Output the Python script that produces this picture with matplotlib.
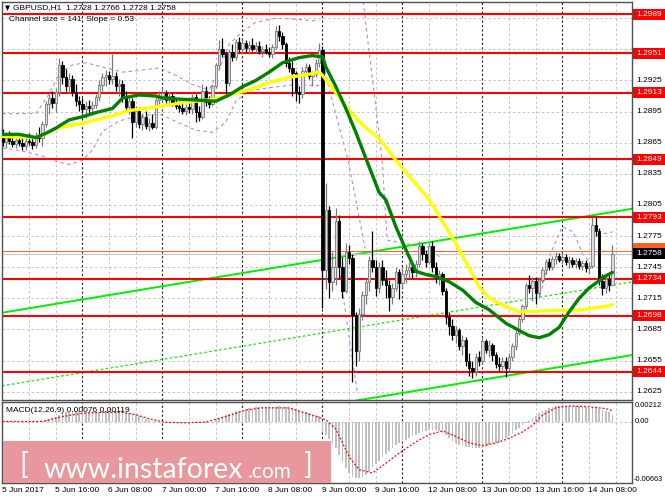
import matplotlib
matplotlib.use("Agg")
import matplotlib.pyplot as plt
from matplotlib.patches import Rectangle
import matplotlib.transforms as mtrans

plt.rcParams['font.family'] = ['Liberation Sans', 'DejaVu Sans']

# ---------------- data ----------------
title_text = "GBPUSD,H1  1.2728 1.2766 1.2728 1.2758"
channel_text = "Channel size = 141  Slope = 0.53"
macd_text = "MACD(12,26,9) 0.00076 0.00119"

time_label_bars = [0, 16, 32, 48, 64, 80, 96, 112, 128, 144, 160, 176]
time_labels = ["5 Jun 2017", "5 Jun 16:00", "6 Jun 08:00", "7 Jun 00:00", "7 Jun 16:00",
               "8 Jun 08:00", "9 Jun 00:00", "9 Jun 16:00", "12 Jun 08:00", "13 Jun 00:00",
               "13 Jun 16:00", "14 Jun 08:00"]
day_separator_bars = [24, 48, 72, 96, 120, 144, 168]

price_ticks = [1.2625, 1.2655, 1.2685, 1.2715, 1.2745, 1.2775, 1.2805, 1.2835, 1.2865,
               1.2895, 1.2925, 1.2955, 1.2985]
level_prices = [1.2989, 1.2951, 1.2913, 1.2849, 1.2793, 1.2734, 1.2698, 1.2644]
bid_price = 1.2758
ask_price = 1.2761

opens = [1.2872,1.2866,1.2870,1.2867,1.2864,1.2868,1.2865,1.2862,1.2867,1.2866,1.2863,1.2872,
         1.2870,1.2883,1.2902,1.2908,1.2903,1.2914,1.2940,1.2928,1.2920,1.2926,1.2914,1.2905,
         1.2902,1.2897,1.2900,1.2898,1.2901,1.2909,1.2921,1.2928,1.2930,1.2926,1.2929,1.2920,
         1.2922,1.2908,1.2899,1.2905,1.2885,1.2896,1.2883,1.2890,1.2881,1.2884,1.2880,1.2906,
         1.2910,1.2913,1.2906,1.2910,1.2903,1.2900,1.2898,1.2896,1.2899,1.2897,1.2909,1.2895,
         1.2890,1.2915,1.2904,1.2902,1.2920,1.2940,1.2955,1.2950,1.2923,1.2952,1.2948,1.2962,
         1.2955,1.2961,1.2956,1.2959,1.2955,1.2958,1.2953,1.2955,1.2952,1.2950,1.2957,1.2973,
         1.2968,1.2960,1.2942,1.2937,1.2932,1.2914,1.2912,1.2934,1.2938,1.2929,1.2931,1.2942,
         1.2954,1.2742,1.2800,1.2731,1.2745,1.2790,1.2745,1.2722,1.2760,1.2754,1.2699,1.2664,
         1.2700,1.2718,1.2731,1.2752,1.2745,1.2725,1.2745,1.2733,1.2728,1.2716,1.2725,1.2740,
         1.2730,1.2738,1.2742,1.2745,1.2740,1.2748,1.2765,1.2758,1.2750,1.2765,1.2745,1.2735,
         1.2738,1.2722,1.2697,1.2688,1.2680,1.2684,1.2669,1.2675,1.2655,1.2648,1.2645,1.2658,
         1.2655,1.2674,1.2665,1.2670,1.2660,1.2652,1.2650,1.2655,1.2648,1.2658,1.2669,1.2682,
         1.2695,1.2708,1.2728,1.2725,1.2732,1.2720,1.2733,1.2742,1.2750,1.2745,1.2753,1.2756,
         1.2752,1.2755,1.2750,1.2752,1.2748,1.2751,1.2746,1.2749,1.2744,1.2746,1.2786,1.2780,
         1.2732,1.2725,1.2734,1.2728]
highs = [1.2878,1.2874,1.2876,1.2872,1.2870,1.2873,1.2871,1.2870,1.2874,1.2870,1.2875,1.2880,
         1.2886,1.2905,1.2912,1.2915,1.2918,1.2947,1.2944,1.2936,1.2932,1.2930,1.2922,1.2910,
         1.2908,1.2905,1.2906,1.2905,1.2912,1.2925,1.2932,1.2935,1.2934,1.2950,1.2933,1.2926,
         1.2925,1.2915,1.2910,1.2908,1.2900,1.2899,1.2894,1.2896,1.2889,1.2893,1.2910,1.2915,
         1.2918,1.2916,1.2914,1.2913,1.2908,1.2905,1.2903,1.2902,1.2903,1.2912,1.2912,1.2900,
         1.2922,1.2920,1.2910,1.2922,1.2942,1.2964,1.2966,1.2952,1.2955,1.2960,1.2965,1.2967,
         1.2965,1.2964,1.2963,1.2966,1.2962,1.2963,1.2958,1.2960,1.2957,1.2960,1.2977,1.2978,
         1.2972,1.2962,1.2948,1.2944,1.2934,1.2920,1.2938,1.2942,1.2941,1.2934,1.2946,1.2961,
         1.2958,1.2826,1.2804,1.2760,1.2802,1.2795,1.2755,1.2768,1.2766,1.2758,1.2702,1.2706,
         1.2722,1.2735,1.2756,1.2780,1.2752,1.2750,1.2752,1.2742,1.2733,1.2730,1.2745,1.2743,
         1.2745,1.2748,1.2750,1.2748,1.2752,1.2770,1.2768,1.2762,1.2768,1.2770,1.2750,1.2742,
         1.2740,1.2725,1.2702,1.2695,1.2688,1.2686,1.2680,1.2678,1.2662,1.2655,1.2662,1.2664,
         1.2678,1.2676,1.2675,1.2672,1.2663,1.2658,1.2658,1.2658,1.2662,1.2672,1.2684,1.2698,
         1.2710,1.2730,1.2737,1.2736,1.2736,1.2736,1.2745,1.2753,1.2754,1.2756,1.2760,1.2759,
         1.2758,1.2758,1.2756,1.2755,1.2754,1.2754,1.2752,1.2752,1.2750,1.2793,1.2793,1.2783,
         1.2738,1.2737,1.2738,1.2766]
lows = [1.2862,1.2860,1.2864,1.2861,1.2860,1.2862,1.2858,1.2858,1.2863,1.2859,1.2860,1.2866,
        1.2862,1.2880,1.2893,1.2898,1.2895,1.2910,1.2922,1.2915,1.2913,1.2910,1.2900,1.2896,
        1.2894,1.2889,1.2893,1.2892,1.2898,1.2905,1.2915,1.2920,1.2922,1.2922,1.2915,1.2910,
        1.2904,1.2895,1.2893,1.2870,1.2880,1.2879,1.2877,1.2878,1.2876,1.2878,1.2878,1.2902,
        1.2905,1.2903,1.2901,1.2900,1.2897,1.2895,1.2893,1.2892,1.2894,1.2893,1.2885,1.2886,
        1.2888,1.2900,1.2898,1.2900,1.2918,1.2936,1.2948,1.2911,1.2920,1.2944,1.2945,1.2952,
        1.2950,1.2952,1.2950,1.2953,1.2951,1.2950,1.2948,1.2950,1.2948,1.2947,1.2955,1.2963,
        1.2955,1.2938,1.2933,1.2910,1.2905,1.2903,1.2908,1.2930,1.2926,1.2920,1.2928,1.2938,
        1.2706,1.2724,1.2715,1.2722,1.2728,1.2735,1.2715,1.2720,1.2748,1.2634,1.2650,1.2655,
        1.2694,1.2710,1.2722,1.2740,1.2717,1.2720,1.2728,1.2715,1.2703,1.2710,1.2722,1.2714,
        1.2725,1.2730,1.2735,1.2735,1.2736,1.2745,1.2752,1.2745,1.2748,1.2740,1.2730,1.2728,
        1.2718,1.2690,1.2680,1.2675,1.2672,1.2665,1.2660,1.2650,1.2640,1.2638,1.2640,1.2650,
        1.2652,1.2662,1.2658,1.2655,1.2648,1.2645,1.2646,1.2639,1.2645,1.2655,1.2665,1.2680,
        1.2692,1.2705,1.2720,1.2712,1.2710,1.2716,1.2730,1.2738,1.2742,1.2742,1.2748,1.2750,
        1.2748,1.2747,1.2744,1.2745,1.2744,1.2743,1.2742,1.2740,1.2738,1.2744,1.2775,1.2728,
        1.2718,1.2720,1.2722,1.2728]
closes = [1.2866,1.2870,1.2867,1.2864,1.2868,1.2865,1.2862,1.2867,1.2866,1.2863,1.2872,1.2870,
          1.2883,1.2902,1.2908,1.2903,1.2914,1.2940,1.2928,1.2920,1.2926,1.2914,1.2905,1.2902,
          1.2897,1.2900,1.2898,1.2901,1.2909,1.2921,1.2928,1.2930,1.2926,1.2929,1.2920,1.2922,
          1.2908,1.2899,1.2905,1.2885,1.2896,1.2883,1.2890,1.2881,1.2884,1.2880,1.2906,1.2910,
          1.2913,1.2906,1.2910,1.2903,1.2900,1.2898,1.2896,1.2899,1.2897,1.2909,1.2895,1.2890,
          1.2915,1.2904,1.2902,1.2920,1.2940,1.2955,1.2950,1.2923,1.2952,1.2948,1.2962,1.2955,
          1.2961,1.2956,1.2959,1.2955,1.2958,1.2953,1.2955,1.2952,1.2950,1.2957,1.2973,1.2968,
          1.2960,1.2942,1.2937,1.2932,1.2914,1.2912,1.2934,1.2938,1.2929,1.2931,1.2942,1.2954,
          1.2742,1.2800,1.2731,1.2745,1.2790,1.2745,1.2722,1.2760,1.2754,1.2699,1.2664,1.2700,
          1.2718,1.2731,1.2752,1.2745,1.2725,1.2745,1.2733,1.2728,1.2716,1.2725,1.2740,1.2730,
          1.2738,1.2742,1.2745,1.2740,1.2748,1.2765,1.2758,1.2750,1.2765,1.2745,1.2735,1.2738,
          1.2722,1.2697,1.2688,1.2680,1.2684,1.2669,1.2675,1.2655,1.2648,1.2645,1.2658,1.2655,
          1.2674,1.2665,1.2670,1.2660,1.2652,1.2650,1.2655,1.2648,1.2658,1.2669,1.2682,1.2695,
          1.2708,1.2728,1.2725,1.2732,1.2720,1.2733,1.2742,1.2750,1.2745,1.2753,1.2756,1.2752,
          1.2755,1.2750,1.2752,1.2748,1.2751,1.2746,1.2749,1.2744,1.2746,1.2786,1.2780,1.2732,
          1.2725,1.2734,1.2728,1.2758]

# moving averages read at sample bars
green_ma_bars = [0, 5, 10, 13, 16, 20, 24, 28, 33, 36, 41, 46, 48, 53, 59, 64, 68, 72, 76, 80, 84,
                 89, 93, 95, 96, 97, 100, 103, 106, 109, 113, 115, 118, 121, 124, 127, 130, 134,
                 138, 142, 146, 151, 155, 158, 161, 164, 167, 170, 173, 176, 179, 180, 183]
green_ma_vals = [1.2873, 1.2873, 1.2870, 1.2874, 1.2879, 1.2887, 1.2890, 1.2894, 1.2898, 1.2908,
                 1.2911, 1.2910, 1.2908, 1.2907, 1.2906, 1.2905, 1.2911, 1.2919, 1.2925, 1.2933,
                 1.2942, 1.2947, 1.2949, 1.2948, 1.2948, 1.2938, 1.2919, 1.2898, 1.2875, 1.2850,
                 1.2817, 1.2810, 1.2784, 1.2762, 1.2741, 1.2738, 1.2736, 1.2731, 1.2723, 1.2711,
                 1.2704, 1.2691, 1.2684, 1.2679, 1.2677, 1.2680, 1.2687, 1.2702, 1.2715, 1.2725,
                 1.2732, 1.2735, 1.2740]
yellow_ma_bars = [0, 9, 12, 16, 21, 26, 29, 33, 38, 43, 49, 55, 61, 65, 69, 73, 76, 80, 86, 92,
                  95, 96, 100, 104, 108, 113, 118, 128, 136, 143, 146, 151, 155, 164, 174, 182, 183]
yellow_ma_vals = [1.2871, 1.2870, 1.2872, 1.2879, 1.2882, 1.2885, 1.2888, 1.2891, 1.2896, 1.2898,
                  1.2901, 1.2904, 1.2906, 1.2908, 1.2912, 1.2915, 1.2918, 1.2923, 1.2928, 1.2931,
                  1.2933, 1.2930, 1.2913, 1.2896, 1.2882, 1.2869, 1.2848, 1.2810, 1.2768, 1.2726,
                  1.2715, 1.2707, 1.2702, 1.2703, 1.2704, 1.2708, 1.2709]

# band lines (violet dashed), read at sample bars
band_up_bars = [0, 10, 14, 17, 21, 25, 30, 36, 42, 47, 52, 57, 62, 65, 68, 72, 76, 82, 88, 95]
band_up_vals = [1.2893, 1.2893, 1.2912, 1.2932, 1.2940, 1.2942, 1.2938, 1.2933, 1.2935, 1.2937,
                1.2930, 1.2921, 1.2916, 1.2935, 1.2960, 1.2972, 1.2981, 1.2985, 1.2984, 1.2982]
band_lo_bars = [0, 6, 12, 16, 20, 24, 27, 30, 35, 40, 47, 53, 58, 63, 67, 70, 74, 80, 88, 95]
band_lo_vals = [1.2860, 1.2857, 1.2852, 1.2847, 1.2844, 1.2848, 1.2858, 1.2876, 1.2886, 1.2890,
                1.2893, 1.2884, 1.2877, 1.2875, 1.2885, 1.2905, 1.2915, 1.2918, 1.2921, 1.2920]
band_p_bars = [95.9, 98.3, 103.7, 108.8]
band_p_vals = [1.2947, 1.2913, 1.2848, 1.2763]
band_q_bars = [108.2, 113.9, 115.4, 122.0, 128.3, 131.0]
band_q_vals = [1.3001, 1.2848, 1.2771, 1.2767, 1.2764, 1.2755]
band_r_bars = [101.3, 106.4]
band_r_vals = [1.2737, 1.2625]
band_u2_bars = [161.3, 164.3, 167.9, 171.2, 174.2, 176.3]
band_u2_vals = [1.2718, 1.2757, 1.2784, 1.2779, 1.2757, 1.2750]
band_u3_bars = [178.4, 183.0]
band_u3_vals = [1.2776, 1.2779]

# regression channel
channel_bars = [0, 183]
channel_mid = [1.26307, 1.27277]
channel_half_width = 0.00705

# MACD (histogram in units of 0.00001)
macd_hist_e5 = [5, 4, 3, 2, 2, 1, 0, -1, -2, -2, -1, 0,
                5, 15, 28, 40, 55, 75, 90, 100, 108, 112, 113, 112,
                110, 108, 106, 104, 105, 108, 112, 115, 116, 118, 115, 112,
                105, 98, 90, 80, 70, 58, 45, 32, 20, 8, 2, -2,
                -5, -8, -10, -12, -14, -16, -18, -19, -20, -18, -18, -18,
                -14, -10, -6, 4, 20, 40, 58, 68, 82, 95, 110, 120,
                130, 138, 145, 150, 155, 158, 162, 163, 162, 160, 163, 165,
                163, 158, 150, 142, 132, 120, 112, 104, 95, 85, 75, 65,
                -110, -140, -190, -240, -280, -360, -440, -500, -560, -600, -610, -605,
                -595, -575, -545, -495, -460, -420, -385, -350, -320, -285, -255, -235,
                -215, -195, -175, -160, -140, -125, -110, -100, -95, -90, -95, -105,
                -120, -145, -175, -205, -230, -250, -262, -270, -275, -285, -290, -288,
                -280, -270, -255, -245, -230, -215, -200, -180, -155, -125, -95, -65,
                -40, -15, 10, 35, 65, 90, 110, 130, 148, 158, 165, 168,
                170, 170, 170, 168, 166, 164, 160, 157, 152, 160, 155, 140,
                130, 118, 100, 76]
macd_sig_bars = [0, 8, 12, 18, 24, 30, 36, 40, 44, 49, 55, 61, 67, 73, 78, 86, 92, 97, 100, 104,
                 107, 111, 115, 119, 124, 128, 132, 136, 140, 144, 148, 152, 156, 159, 162, 166,
                 170, 176, 181, 183]
macd_sig_e5 = [2, 1, 2, 55, 90, 100, 100, 75, 30, -8, -12, -5, 55, 125, 150, 148, 80, 20, -80,
               -380, -520, -555, -450, -340, -220, -140, -100, -160, -230, -260, -230, -180, -110,
               -40, 70, 150, 170, 160, 140, 119]
macd_top, macd_bottom = 0.00212, -0.00663

# ---------------- layout ----------------
W, H = 665, 499
fig = plt.figure(figsize=(W / 100, H / 100), dpi=100)
fig.patch.set_facecolor('white')
L, R = 2, 632
MT, MB = 2, 400
DT, DB = 402, 483
ax = fig.add_axes([L / W, 1 - MB / H, (R - L) / W, (MB - MT) / H])
axm = fig.add_axes([L / W, 1 - DB / H, (R - L) / W, (DB - DT) / H])

px_per_bar = 3.3333
x0 = 2.5
xlim = ((L - x0) / px_per_bar, (R - x0) / px_per_bar)
ylim = (1.26170, 1.30006)

for a in (ax, axm):
    a.set_xlim(*xlim)
    a.set_xticks([])
    a.set_yticks([])
    a.set_facecolor('white')
    for s in a.spines.values():
        s.set_color('#505050')
        s.set_linewidth(1.0)
ax.set_ylim(*ylim)
axm.set_ylim(macd_bottom, macd_top)

grid_col = '#c4c4c4'
dash = (0, (2.5, 2.5))
n = len(closes)
for b in range(8, 190, 8):
    if b in day_separator_bars:
        continue
    for a in (ax, axm):
        a.axvline(b, color=grid_col, lw=0.7, ls=dash, zorder=0)
for b in day_separator_bars:
    for a in (ax, axm):
        a.axvline(b, color='#202020', lw=0.8, ls=(0, (2, 2)), zorder=0.5)
for p in price_ticks:
    ax.axhline(p, color=grid_col, lw=0.7, ls=dash, zorder=0)
axm.axhline(0, color=grid_col, lw=0.7, ls=dash, zorder=0)

# bands
band_style = dict(color='#c080e0', lw=0.8, ls=(0, (3, 3)), zorder=1)
for bx, bv in ((band_up_bars, band_up_vals), (band_lo_bars, band_lo_vals),
               (band_p_bars, band_p_vals), (band_q_bars, band_q_vals),
               (band_r_bars, band_r_vals), (band_u2_bars, band_u2_vals),
               (band_u3_bars, band_u3_vals)):
    ax.plot(bx, bv, **band_style)

# channel
xl = [xlim[0], xlim[1]]
slope = (channel_mid[1] - channel_mid[0]) / (channel_bars[1] - channel_bars[0])
mid_line = [channel_mid[0] + slope * (x - channel_bars[0]) for x in xl]
ax.plot(xl, [m + channel_half_width for m in mid_line], color='#00ee00', lw=1.4, zorder=2)
ax.plot(xl, [m - channel_half_width for m in mid_line], color='#00ee00', lw=1.4, zorder=2)
ax.plot(xl, mid_line, color='#00ee00', lw=0.9, ls=(0, (2, 2)), zorder=2)

# levels
for p in level_prices:
    ax.axhline(p, color='#ff0000', lw=1.5, zorder=2.5)
ax.axhline(ask_price, color='#ff6020', lw=0.7, zorder=2.4)
ax.axhline(bid_price, color='#c8c8c8', lw=0.9, zorder=2.4)

# candles
for i in range(n):
    o, h, l, c = opens[i], highs[i], lows[i], closes[i]
    up = c >= o
    edge = '#7a7a7a' if up else '#000000'
    face = '#dcdcdc' if up else '#000000'
    ax.vlines(i, l, h, color=edge, lw=0.9, zorder=3)
    ax.add_patch(Rectangle((i - 0.36, min(o, c)), 0.72, max(abs(c - o), 0.00004),
                           facecolor=face, edgecolor=edge, lw=0.6, zorder=3.1))

# moving averages
ax.plot(yellow_ma_bars, yellow_ma_vals, color='#ffff00', lw=2.4, zorder=4, solid_capstyle='round')
ax.plot(green_ma_bars, green_ma_vals, color='#008000', lw=2.4, zorder=4.1, solid_capstyle='round')

# MACD
axm.bar(range(n), [v * 1e-5 for v in macd_hist_e5], width=0.55, color='#c0c0c0', zorder=2)
axm.plot(macd_sig_bars, [v * 1e-5 for v in macd_sig_e5], color='#ff0000', lw=0.9,
         ls=(0, (1.5, 1.5)), zorder=3)

# right price scale
ty = mtrans.blended_transform_factory(ax.transAxes, ax.transData)
xa = (636 - L) / (R - L)
fs = 6.0
bh = 11 / 10377.0
for p in price_ticks:
    if any(abs(p - q) < bh * 0.9 for q in level_prices):
        continue  # hidden behind a level label in the reference
    ax.text(xa, p, f"{p:.4f}", transform=ty, fontsize=fs, va='center', ha='left',
            color='black', clip_on=False)
bx0 = (633 - L) / (R - L)
bw = (665 - 633) / (R - L)


def label_box(p, fc, tc, z, dy=0.0, show_text=True):
    ax.add_patch(Rectangle((bx0, p + dy - bh / 2), bw, bh, transform=ty, facecolor=fc,
                           edgecolor='none', clip_on=False, zorder=z))
    if show_text:
        ax.text(bx0 + bw / 2, p + dy, f"{p:.4f}", transform=ty, fontsize=fs, va='center',
                ha='center', color=tc, clip_on=False, zorder=z + 0.1)


for p in level_prices:
    label_box(p, '#ff0000', 'white', 10)
label_box(ask_price, '#ff6020', 'white', 10.5, dy=0.0002, show_text=False)
label_box(bid_price, '#000000', 'white', 11)

# MACD scale
tym = mtrans.blended_transform_factory(axm.transAxes, axm.transData)
xam = (635 - L) / (R - L)
axm.text(xam, macd_top, f"{macd_top:.5f}", transform=tym, fontsize=5.5, va='top', ha='left',
         clip_on=False)
axm.text(xam, 0, "0.00", transform=tym, fontsize=5.5, va='center', ha='left', clip_on=False)
axm.text(xam - 0.002, macd_bottom, f"{macd_bottom:.5f}", transform=tym, fontsize=5.3,
         va='bottom', ha='left', clip_on=False)

# time labels
txb = mtrans.blended_transform_factory(ax.transData, fig.transFigure)
for b, t in zip(time_label_bars, time_labels):
    ax.text(b - 0.2, 1 - 490 / H, t, transform=txb, fontsize=fs, va='center', ha='left',
            clip_on=False)

# titles
fig.text(5 / W, 1 - 8 / H, "\u25bc", fontsize=4.8, va='center', ha='left',
         family=['DejaVu Sans'])
fig.text(13 / W, 1 - 8 / H, title_text, fontsize=fs, va='center', ha='left')
fig.text(9 / W, 1 - 19.5 / H, channel_text, fontsize=fs, va='center', ha='left')
fig.text(6 / W, 1 - 410 / H, macd_text, fontsize=fs, va='center', ha='left')

# watermark
fig.patches.append(Rectangle((3 / W, 1 - 483 / H), (331 - 3) / W, (483 - 441) / H,
                             transform=fig.transFigure, facecolor='#e8979d', edgecolor='none',
                             zorder=5))
wm = dict(color='white', family=['Lato', 'DejaVu Sans'], zorder=6)
fig.text(19 / W, 1 - 466 / H, "[", fontsize=21, va='center', ha='left', **wm)
fig.text(44 / W, 1 - 478 / H, "www.instaforex", fontsize=20.5, va='baseline', ha='left', **wm)
fig.text(248 / W, 1 - 478 / H, ".com", fontsize=15, va='baseline', ha='left', **wm)
fig.text(303 / W, 1 - 466 / H, "]", fontsize=21, va='center', ha='left', **wm)

fig.savefig("out.png", dpi=100, facecolor='white')
